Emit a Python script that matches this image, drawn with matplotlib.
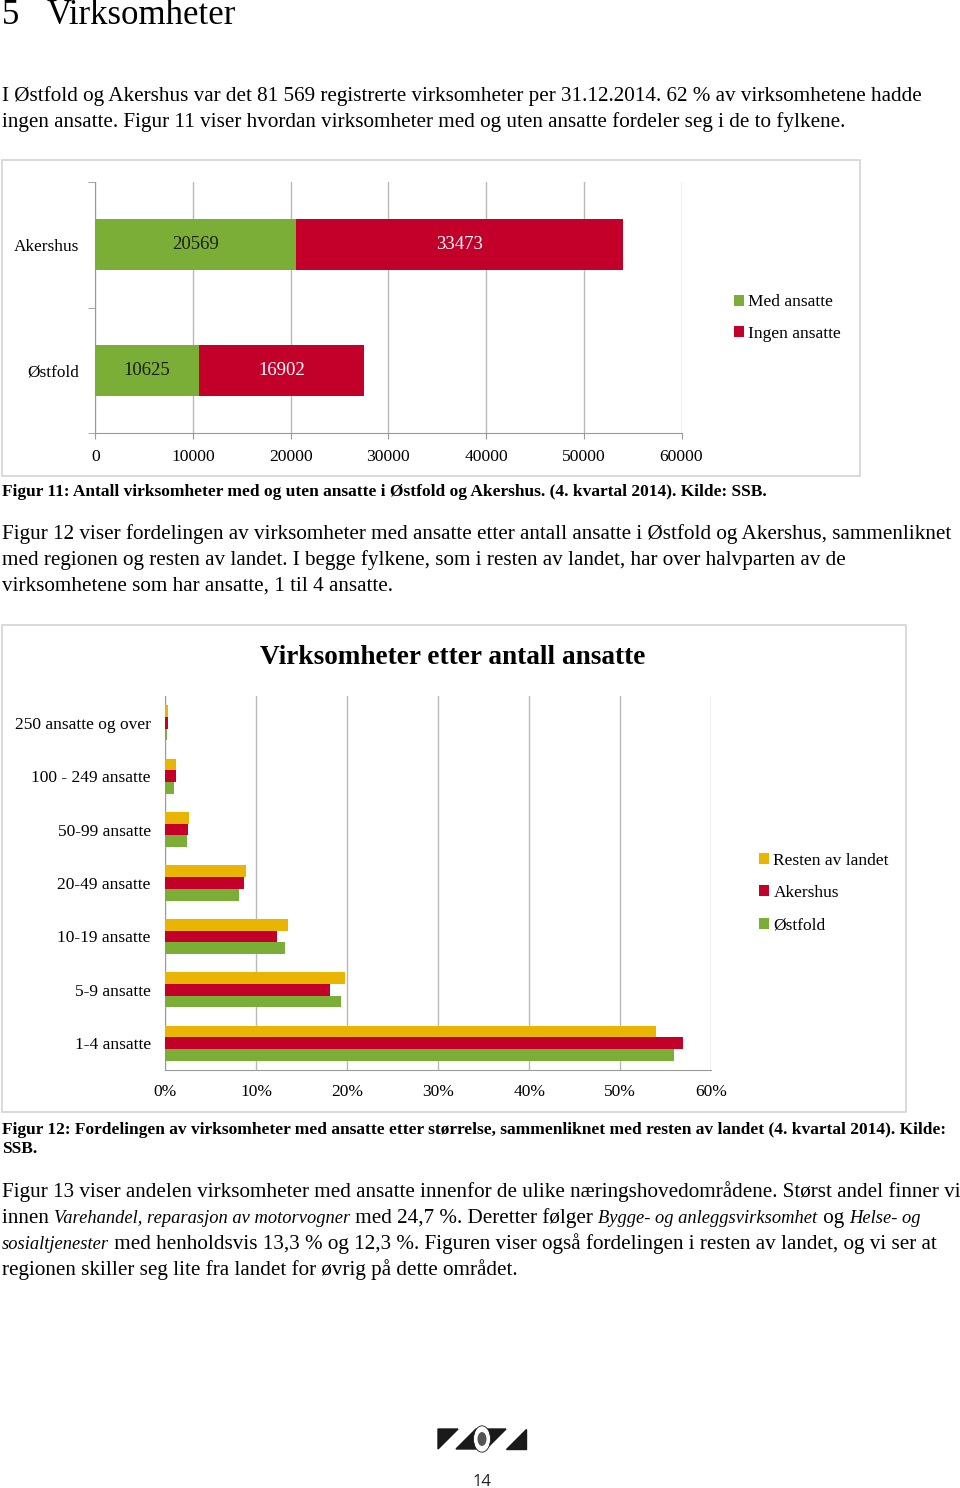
#!/usr/bin/env python3
"""Page 14 of the regional report: section 5, Virksomheter, with figures 11 and 12."""
import matplotlib
matplotlib.use("Agg")
import matplotlib.pyplot as plt
from matplotlib.patches import Polygon, Rectangle, Circle

W, H = 960, 1488
SERIF = ["Liberation Serif", "DejaVu Serif"]

# figure 11
counties = ["Østfold", "Akershus"]
med_ansatte = [10625, 20569]
ingen_ansatte = [16902, 33473]

# figure 12
size_classes = ["1-4 ansatte", "5-9 ansatte", "10-19 ansatte", "20-49 ansatte",
                "50-99 ansatte", "100 - 249 ansatte", "250 ansatte og over"]
resten_av_landet = [53.9, 19.7, 13.5, 8.9, 2.6, 1.2, 0.3]
akershus = [56.9, 18.1, 12.3, 8.7, 2.5, 1.2, 0.3]
ostfold = [55.9, 19.3, 13.1, 8.1, 2.4, 0.95, 0.2]

GREEN = "#7bae37"
RED = "#c2002a"
YELLOW = "#e9b500"
GRID = "#b9b9b9"
FRAME = "#d3d3d3"

plt.rcParams["font.family"] = SERIF
fig = plt.figure(figsize=(W / 100, H / 100), dpi=100)
renderer = fig.canvas.get_renderer()

BODY = 15.2
ITAL = 13.3   # Garamond italic runs narrow, Liberation italic does not
CAP = 12.5


def fx(x):
    return x / W


def fy(y):
    return 1 - y / H


def axes_px(left, top, right, bottom):
    return fig.add_axes([fx(left), fy(bottom), (right - left) / W, (bottom - top) / H])


def runs(x, y, parts):
    # parts: list of (text, italic)
    for txt, italic in parts:
        t = fig.text(fx(x), fy(y), txt, fontsize=ITAL if italic else BODY,
                     style="italic" if italic else "normal", va="baseline", ha="left")
        x += t.get_window_extent(renderer).width


def frame(left, top, right, bottom):
    fig.patches.append(Rectangle((fx(left), fy(bottom)), (right - left) / W, (bottom - top) / H,
                                 transform=fig.transFigure, fill=False, edgecolor=FRAME, lw=1.2))


# heading and first paragraph
fig.text(fx(2), fy(24), "5", fontsize=25, va="baseline")
fig.text(fx(47), fy(24), "Virksomheter", fontsize=25, va="baseline")
runs(2, 101, [("I Østfold og Akershus var det 81 569 registrerte virksomheter per 31.12.2014. 62 % av virksomhetene hadde", False)])
runs(2, 127, [("ingen ansatte. Figur 11 viser hvordan virksomheter med og uten ansatte fordeler seg i de to fylkene.", False)])

# figure 11
frame(2, 160, 860, 476)
ax1 = axes_px(95.3, 181.7, 681.5, 433.3)
ypos = range(len(counties))
ax1.barh(ypos, med_ansatte, height=0.4, color=GREEN, label="Med ansatte", zorder=3)
ax1.barh(ypos, ingen_ansatte, left=med_ansatte, height=0.4, color=RED, label="Ingen ansatte", zorder=3)
for i in ypos:
    ax1.text(med_ansatte[i] / 2, i, str(med_ansatte[i]), ha="center", va="center",
             fontsize=13.5, color="#1c1c1c", zorder=4)
    ax1.text(med_ansatte[i] + ingen_ansatte[i] / 2, i, str(ingen_ansatte[i]), ha="center",
             va="center", fontsize=13.5, color="white", zorder=4)
ax1.set_xlim(0, 60000)
ax1.set_ylim(-0.5, 1.5)
ax1.set_xticks(range(0, 60001, 10000))
ax1.set_yticks(list(ypos))
ax1.set_yticklabels(counties)
ax1.set_yticks([-0.5, 0.5, 1.5], minor=True)
ax1.tick_params(axis="y", which="major", length=0, pad=11.5, labelsize=12.4)
ax1.tick_params(axis="y", which="minor", length=5, color="#9a9a9a")
ax1.tick_params(axis="x", length=4, color="#9a9a9a", pad=7, labelsize=12.6)
ax1.grid(axis="x", color=GRID, lw=1, zorder=0)
for s in ["top", "right"]:
    ax1.spines[s].set_visible(False)
for s in ["left", "bottom"]:
    ax1.spines[s].set_color("#9a9a9a")
ax1.legend(loc="center left", bbox_to_anchor=(fx(718), fy(318)), bbox_transform=fig.transFigure,
           frameon=False, fontsize=12.5, handlelength=0.6, handleheight=0.6, handletextpad=0.25,
           labelspacing=0.9)

fig.text(fx(2), fy(496), "Figur 11: Antall virksomheter med og uten ansatte i Østfold og Akershus. (4. kvartal 2014). Kilde: SSB.",
         fontsize=CAP, weight="bold", va="baseline")

runs(2, 539, [("Figur 12 viser fordelingen av virksomheter med ansatte etter antall ansatte i Østfold og Akershus, sammenliknet", False)])
runs(2, 565, [("med regionen og resten av landet. I begge fylkene, som i resten av landet, har over halvparten av de", False)])
runs(2, 591, [("virksomhetene som har ansatte, 1 til 4 ansatte.", False)])

# figure 12
frame(2, 625, 906, 1112)
fig.text(fx(453), fy(664), "Virksomheter etter antall ansatte", fontsize=19.6, weight="bold",
         ha="center", va="baseline")
ax2 = axes_px(165.3, 696, 711.3, 1070)
h = 0.219
pos = list(range(len(size_classes)))
ax2.barh([p + h for p in pos], resten_av_landet, height=h, color=YELLOW, label="Resten av landet", zorder=3)
ax2.barh(pos, akershus, height=h, color=RED, label="Akershus", zorder=3)
ax2.barh([p - h for p in pos], ostfold, height=h, color=GREEN, label="Østfold", zorder=3)
ax2.set_xlim(0, 60)
ax2.set_ylim(-0.5, len(size_classes) - 0.5)
ax2.set_xticks(range(0, 61, 10))
ax2.set_xticklabels([f"{v}%" for v in range(0, 61, 10)])
ax2.set_yticks(pos)
ax2.set_yticklabels(size_classes)
ax2.tick_params(axis="y", length=0, pad=10.5, labelsize=12.5)
ax2.tick_params(axis="x", length=0, pad=10, labelsize=12.5)
ax2.grid(axis="x", color=GRID, lw=1, zorder=0)
for s in ["top", "right"]:
    ax2.spines[s].set_visible(False)
for s in ["left", "bottom"]:
    ax2.spines[s].set_color("#9a9a9a")
ax2.legend(loc="center left", bbox_to_anchor=(fx(743), fy(893)), bbox_transform=fig.transFigure,
           frameon=False, fontsize=12.5, handlelength=0.6, handleheight=0.6, handletextpad=0.25,
           labelspacing=0.95)

fig.text(fx(2), fy(1134), "Figur 12: Fordelingen av virksomheter med ansatte etter størrelse, sammenliknet med resten av landet (4. kvartal 2014). Kilde:",
         fontsize=CAP, weight="bold", va="baseline")
fig.text(fx(2), fy(1153), "SSB.", fontsize=CAP, weight="bold", va="baseline")

runs(2, 1197, [("Figur 13 viser andelen virksomheter med ansatte innenfor de ulike næringshovedområdene. Størst andel finner vi", False)])
runs(2, 1223, [("innen ", False), ("Varehandel, reparasjon av motorvogner", True), (" med 24,7 %. Deretter følger ", False),
               ("Bygge- og anleggsvirksomhet", True), (" og ", False), ("Helse- og", True)])
runs(2, 1249, [("sosialtjenester", True), (" med henholdsvis 13,3 % og 12,3 %. Figuren viser også fordelingen i resten av landet, og vi ser at", False)])
runs(2, 1275, [("regionen skiller seg lite fra landet for øvrig på dette området.", False)])

# footer mark and page number
for pts in ([(438, 1429), (458, 1429), (438, 1449)],
            [(476, 1429), (506, 1429), (486, 1449), (456, 1449)],
            [(526, 1429), (526, 1449), (506, 1449)]):
    fig.patches.append(Polygon([(fx(x), fy(y)) for x, y in pts], closed=True,
                               transform=fig.transFigure, color="#1a1a1a"))
fig.patches.append(Circle((fx(482), fy(1439)), 8.5 / W, transform=fig.transFigure,
                          facecolor="white", edgecolor="#1a1a1a", lw=0.6))
fig.patches.append(Circle((fx(482), fy(1439)), 4.5 / W, transform=fig.transFigure,
                          facecolor="#555555", edgecolor="none"))
fig.text(fx(482), fy(1486), "14", fontsize=12, family=["Open Sans", "DejaVu Sans"], ha="center",
         va="baseline", color="#222222")

fig.savefig("out.png", dpi=100)
